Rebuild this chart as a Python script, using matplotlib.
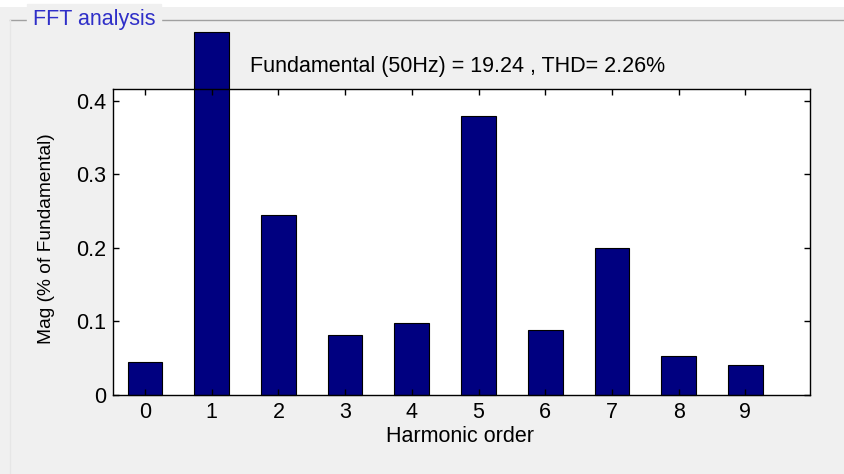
import matplotlib
matplotlib.use("Agg")
import matplotlib.pyplot as plt
from matplotlib.lines import Line2D
from matplotlib.patches import Rectangle
from matplotlib.ticker import FuncFormatter

# harmonic spectrum
harmonics = [0, 1, 2, 3, 4, 5, 6, 7, 8, 9]
magnitudes = [0.045, 0.493, 0.244, 0.081, 0.098, 0.379, 0.088, 0.200, 0.053, 0.041]
y_ticks = [0, 0.1, 0.2, 0.3, 0.4]

panel_title = "FFT analysis"
info_text = "Fundamental (50Hz) = 19.24 , THD= 2.26%"

plt.rcParams["font.family"] = ["Liberation Sans", "DejaVu Sans"]
FS = 15.5      # horizontal texts
FS_Y = 13.8    # rotated y label

W, H = 844, 474
fig = plt.figure(figsize=(W / 100, H / 100), dpi=100, facecolor="#f0f0f0")

# white strip along the top edge of the screenshot
fig.patches.append(Rectangle((0, 1 - 7 / H), 1, 7 / H, transform=fig.transFigure,
                             facecolor="white", edgecolor="none", zorder=0))

# group box line + title
fig.lines.append(Line2D([10 / W, 1], [1 - 20 / H, 1 - 20 / H], transform=fig.transFigure,
                        color="#a0a0a0", lw=1.0))
fig.lines.append(Line2D([10 / W, 10 / W], [0, 1 - 20 / H], transform=fig.transFigure,
                        color="#e6e6e6", lw=1.0))
fig.text(33 / W, 1 - 20 / H, panel_title, color="#2f2fc8", fontsize=FS,
         ha="left", va="center", backgroundcolor="#f0f0f0")

ax = fig.add_axes([113 / W, 1 - 395 / H, (810 - 113) / W, (395 - 89) / H])
ax.set_facecolor("white")
bars = ax.bar(harmonics, magnitudes, width=0.52, color="#000080",
              edgecolor="black", linewidth=0.8)
for b in bars:
    b.set_clip_on(False)

ax.set_xlim(-0.48, 9.97)
ax.set_ylim(0, 0.4158)
ax.set_xticks(harmonics)
ax.set_yticks(y_ticks)
ax.yaxis.set_major_formatter(FuncFormatter(lambda v, p: "%g" % v))
ax.tick_params(direction="in", top=True, right=True, length=4, width=1,
               labelsize=FS, colors="black", pad=5)
for s in ax.spines.values():
    s.set_linewidth(1.0)

fig.text(458 / W, 1 - 67 / H, info_text, fontsize=FS, ha="center", va="center")
fig.text(460 / W, 1 - 437 / H, "Harmonic order", fontsize=FS, ha="center", va="center")
fig.text(47 / W, 1 - 239 / H, "Mag (% of Fundamental)", fontsize=FS_Y, ha="center",
         va="center", rotation=90)

fig.savefig("out.png", dpi=100, facecolor=fig.get_facecolor())
